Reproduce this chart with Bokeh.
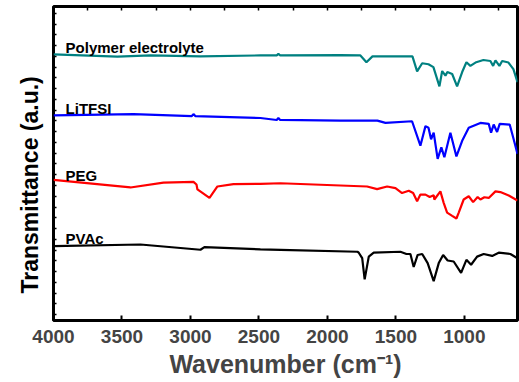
from bokeh.plotting import figure
from bokeh.models import Range1d, LinearAxis, FixedTicker, Label, Title
from bokeh.embed import file_html
from bokeh.resources import INLINE

# Wavenumber (cm^-1) and transmittance (a.u., stacked offsets)
pe_wn = [4000, 3533, 3292, 2927, 2489, 2370, 2358, 2345, 1905, 1759, 1715, 1671, 1379, 1345, 1308, 1262,
         1226, 1182, 1162, 1138, 1124, 1089, 1053, 1016, 985, 956, 919, 861, 810, 790, 773, 744, 724,
         678, 642, 612]
pe_t = [272, 269.7, 271, 270, 271, 271, 272.5, 271, 271.3, 271, 264, 270, 270, 254.7, 263, 262,
        259, 239.3, 255, 250.3, 254, 252, 239.3, 254, 264, 260.3, 263.7, 266.3, 265.3, 260.3, 266, 260.3, 265.3,
        263.7, 257, 243.7]

li_wn = [4000, 3416, 2990, 2978, 2965, 2489, 2370, 2358, 2345, 1905, 1635, 1576, 1382, 1321, 1284, 1262,
         1243, 1224, 1195, 1168, 1146, 1102, 1058, 1016, 968, 883, 822, 805, 786, 761, 742, 669, 640, 612]
li_t = [209.7, 211, 209, 211, 209, 207, 205, 207, 205, 204.3, 204.3, 202, 203.7, 178.7, 198.7, 197,
        185.3, 192, 165.3, 177, 167, 192, 167.7, 183.7, 197, 202, 201, 192, 200.3, 192.7, 201, 200.3, 185.3, 170.3]

peg_wn = [4000, 3438, 3197, 2978, 2956, 2949, 2861, 2803, 2686, 2489, 2343, 1905, 1710, 1637, 1564, 1503,
          1455, 1406, 1374, 1345, 1321, 1284, 1253, 1224, 1219, 1175, 1151, 1126, 1089, 1058, 1041, 1005,
          968, 936, 903, 883, 854, 822, 773, 737, 676, 612]
peg_t = [143.7, 136, 141, 141.7, 139, 134, 125.3, 137, 139.5, 139.7, 140.3, 138, 137, 134.3, 137, 135.3,
         130.3, 132.7, 130.3, 122, 128.7, 128.7, 126.3, 128, 123.7, 132, 120.3, 110.3, 107, 104.3, 110.3, 123.7,
         127, 121, 126.3, 123.7, 126, 125.3, 132, 131.3, 127.7, 122.7]

pvac_wn = [4000, 3365, 2927, 2898, 2489, 2343, 1781, 1771, 1746, 1728, 1698, 1662, 1467, 1423, 1394, 1370,
           1341, 1308, 1268, 1224, 1187, 1155, 1122, 1078, 1024, 985, 951, 907, 859, 797, 749, 664, 612]
pvac_t = [76, 77.7, 72.3, 75, 72.7, 72.3, 70.3, 69.3, 63.7, 42, 65.3, 69.3, 70.3, 68, 68, 54.7,
          67, 68, 58.7, 40.3, 58.7, 67, 61.3, 60.3, 48.7, 62, 57, 65.3, 68, 66, 69.3, 68, 63.7]

names = ["Polymer electrolyte", "LiTFSI", "PEG", "PVAc"]
colors = ["#008080", "#0000FF", "#FF0000", "#000000"]
label_y = [279.3, 216.3, 148.7, 84.3]
x_ticks = [4000, 3500, 3000, 2500, 2000, 1500, 1000]
x_title = "Wavenumber (cm\u207b\u00b9)"
y_title = "Transmittance (a.u.)"

FONT = "Liberation Sans"

p = figure(width=519, height=380, output_backend="svg", toolbar_location=None,
           x_range=Range1d(4000, 612), y_range=Range1d(0, 321),
           min_border_left=53, min_border_right=2, min_border_top=6, min_border_bottom=53,
           x_axis_label=x_title)

p.grid.visible = False
p.outline_line_color = "black"
p.outline_line_width = 3
p.background_fill_color = "white"
p.border_fill_color = "white"

series = [(pe_wn, pe_t), (li_wn, li_t), (peg_wn, peg_t), (pvac_wn, pvac_t)]
for (wn, t), c in zip(series, colors):
    p.line(wn, t, line_color=c, line_width=2.2)

for name, yy in zip(names, label_y):
    p.add_layout(Label(x=3912, y=yy, text=name, text_font=FONT, text_font_style="bold",
                       text_font_size="15px", text_color="black", text_baseline="alphabetic"))

# bottom axis
xa = p.xaxis[0]
xa.ticker = FixedTicker(ticks=x_ticks, minor_ticks=[])
xa.major_tick_in = 5
xa.major_tick_out = 0
xa.major_tick_line_width = 2
xa.minor_tick_line_color = None
xa.axis_line_color = None
xa.major_label_text_font = FONT
xa.major_label_text_font_style = "bold"
xa.major_label_text_font_size = "19px"
xa.major_label_standoff = 9
xa.axis_label_text_font = FONT
xa.axis_label_text_font_style = "bold"
xa.axis_label_text_font_size = "25px"
xa.axis_label_standoff = 4

# left axis: small inward ticks only, no tick labels
ya = p.yaxis[0]
ya.ticker = FixedTicker(ticks=[], minor_ticks=list(range(6, 321, 11)))
ya.minor_tick_in = 3
ya.minor_tick_out = 0
ya.minor_tick_line_width = 1.5
ya.axis_line_color = None
ya.major_label_standoff = 0

# y-axis title, set a little below the frame centre as in the reference
p.add_layout(Title(text=y_title, align="left", offset=27, standoff=22, text_font=FONT,
                   text_font_style="bold", text_font_size="23px", text_color="black"), "left")

# top axis with inward ticks only
ta = LinearAxis(ticker=FixedTicker(ticks=[], minor_ticks=list(range(750, 4001, 250))),
                minor_tick_in=4, minor_tick_out=0, minor_tick_line_width=1.5,
                axis_line_color=None, major_label_standoff=0)
p.add_layout(ta, "above")

open("out.html", "w").write(file_html(p, INLINE))
